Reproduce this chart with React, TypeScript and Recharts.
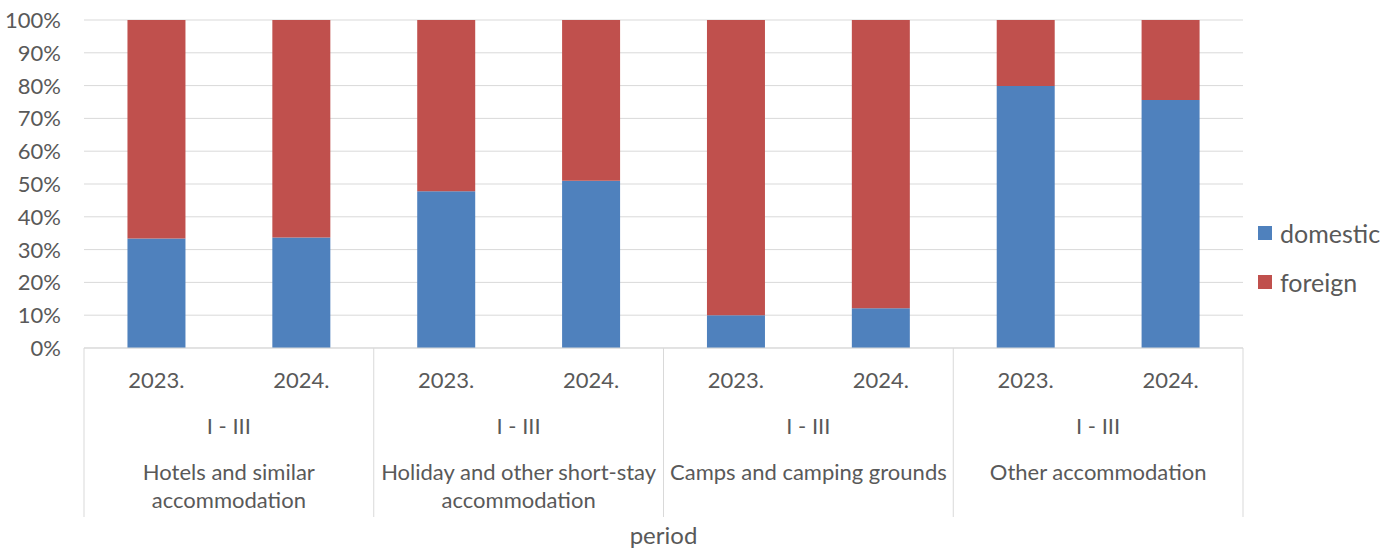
import React from 'react';
import { BarChart, Bar, XAxis, YAxis, CartesianGrid, Legend } from 'recharts';

const years = ['2023.', '2024.', '2023.', '2024.', '2023.', '2024.', '2023.', '2024.'];
const periodLabel = 'I - III';
const groupLines = [
  ['Hotels and similar', 'accommodation'],
  ['Holiday and other short-stay', 'accommodation'],
  ['Camps and camping grounds'],
  ['Other accommodation'],
];
const domestic = [33.4, 33.7, 47.8, 51.0, 10.0, 12.1, 79.9, 75.6];
const foreign = [66.6, 66.3, 52.2, 49.0, 90.0, 87.9, 20.1, 24.4];
const yTicks = [0, 10, 20, 30, 40, 50, 60, 70, 80, 90, 100];
const seriesNames = ['domestic', 'foreign'];
const seriesColors = ['#4F81BD', '#C0504D'];

const data = years.map((y, i) => ({ key: `${y}-${i}`, year: y, domestic: domestic[i], foreign: foreign[i] }));

const FONT = 'Lato, "Open Sans", sans-serif';
const TEXT = '#595959';
const GRID = '#D9D9D9';
const W = 1400;
const H = 551;
const LEGEND_W = 142;
const M = { top: 20, right: 157 - LEGEND_W, bottom: 0, left: 0 };
const PLOT_W = W - 84 - 157;
const HALF = PLOT_W / years.length / 2;

const XTick = (props: any) => {
  const { x, y, payload } = props;
  const i: number = payload?.index ?? props.index;
  const off: number = payload?.offset || HALF;
  const g = Math.floor(i / 2);
  const gx = x + off;
  return (
    <g fontFamily={FONT} fontSize={22} fill={TEXT}>
      <text x={x} y={y + 40} textAnchor="middle" fill={TEXT}>{years[i]}</text>
      {i % 2 === 0 && (
        <g>
          <line x1={x - off} x2={x - off} y1={y} y2={y + 169} stroke={GRID} strokeWidth={1} />
          <text x={gx} y={y + 86} textAnchor="middle" fill={TEXT}>{periodLabel}</text>
          {groupLines[g].map((t, k) => (
            <text key={k} x={gx} y={y + 132 + k * 28} textAnchor="middle" fill={TEXT}>{t}</text>
          ))}
        </g>
      )}
      {i === years.length - 1 && (
        <line x1={x + off} x2={x + off} y1={y} y2={y + 169} stroke={GRID} strokeWidth={1} />
      )}
    </g>
  );
};

const YTick = (props: any) => {
  const { x, y, payload } = props;
  return (
    <text x={x} y={y + 8} textAnchor="end" fontFamily={FONT} fontSize={22} fill={TEXT}>
      {`${payload.value}%`}
    </text>
  );
};

const LegendContent = () => (
  <div style={{ fontFamily: FONT, fontSize: 25, color: TEXT }}>
    {seriesNames.map((n, i) => (
      <div key={n} style={{ display: 'flex', alignItems: 'center', height: 49 }}>
        <span style={{ display: 'inline-block', width: 14, height: 14, background: seriesColors[i], marginRight: 8 }} />
        <span>{n}</span>
      </div>
    ))}
  </div>
);

const PeriodLabel = (props: any) => {
  const vb = props.viewBox || {};
  const cx = (vb.x ?? 84) + (vb.width ?? PLOT_W) / 2;
  return (
    <text x={cx} y={544} textAnchor="middle" fontFamily={FONT} fontSize={24} fill={TEXT}>period</text>
  );
};

export default function App() {
  return (
    <div style={{ position: 'absolute', left: 0, top: 0, width: W, height: H, background: '#fff' }}>
      <BarChart width={W} height={H} data={data} margin={M} barCategoryGap="30%">
        <CartesianGrid vertical={false} stroke={GRID} strokeWidth={1} />
        <XAxis
          dataKey="key"
          height={203}
          tickLine={false}
          tickSize={0}
          tickMargin={0}
          axisLine={{ stroke: GRID, strokeWidth: 1 }}
          tick={<XTick />}
          interval={0}
          label={<PeriodLabel />}
        />
        <YAxis
          width={84}
          domain={[0, 100]}
          ticks={yTicks}
          tickLine={false}
          axisLine={false}
          tickSize={0}
          tickMargin={23}
          tick={<YTick />}
          interval={0}
        />
        <Legend
          layout="horizontal"
          verticalAlign="middle"
          align="right"
          wrapperStyle={{ position: 'absolute', left: 1258, top: 208, width: LEGEND_W }}
          content={() => <LegendContent />}
        />
        <Bar dataKey="domestic" stackId="a" fill={seriesColors[0]} isAnimationActive={false} />
        <Bar dataKey="foreign" stackId="a" fill={seriesColors[1]} isAnimationActive={false} />
      </BarChart>
    </div>
  );
}
